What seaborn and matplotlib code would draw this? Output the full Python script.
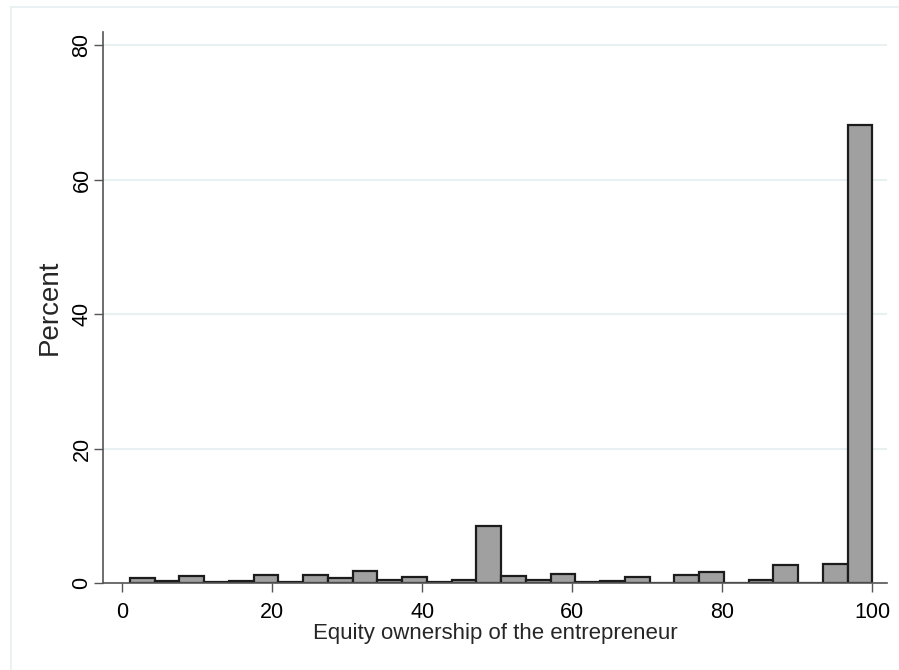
import numpy as np
import pandas as pd
import matplotlib
matplotlib.use("Agg")
import matplotlib.pyplot as plt
import seaborn as sns
from matplotlib.patches import Rectangle

# bins of the histogram (30 bins from 1 to 100) and percent per bin
bin_lo = 1
bin_hi = 100
n_bins = 30
percent = [0.7, 0.35, 1.1, 0.15, 0.3, 1.2, 0.15, 1.2, 0.7, 1.8,
           0.5, 0.95, 0.1, 0.5, 8.5, 1.0, 0.5, 1.35, 0.15, 0.3,
           0.85, 0.05, 1.2, 1.6, 0.0, 0.5, 2.7, 0.05, 2.8, 68.2]
x_ticks = [0, 20, 40, 60, 80, 100]
y_ticks = [0, 20, 40, 60, 80]

edges = np.linspace(bin_lo, bin_hi, n_bins + 1)
df = pd.DataFrame({'equity': (edges[:-1] + edges[1:]) / 2, 'pct': percent})

sns.set_style("white")
plt.rcParams['font.family'] = ['Liberation Sans', 'DejaVu Sans']

fig = plt.figure(figsize=(8.99, 6.7), dpi=100)
ax = fig.add_axes([103 / 899, 1 - 583 / 670, (887 - 103) / 899, (583 - 32) / 670])

# light graph region frame
fig.patches.append(Rectangle((11 / 899, -0.1), 1.2, 1 - 7 / 670 + 0.1,
                             transform=fig.transFigure, fill=False,
                             edgecolor='#e6eff1', linewidth=1.2))

sns.histplot(data=df, x='equity', weights='pct', bins=n_bins,
             binrange=(bin_lo, bin_hi), ax=ax,
             color='#a0a0a0', edgecolor='#1c1c1c', linewidth=1.6, alpha=1)

ax.set_xlim(-2.57, 101.96)
ax.set_ylim(0, 82.0)
ax.set_xticks(x_ticks)
ax.set_yticks(y_ticks)
ax.yaxis.grid(True, color='#e8f0f2', linewidth=1.5)
ax.set_axisbelow(True)

for s in ['top', 'right']:
    ax.spines[s].set_visible(False)
for s in ['left', 'bottom']:
    ax.spines[s].set_color('#555555')
    ax.spines[s].set_linewidth(1.2)

ax.tick_params(axis='both', direction='out', length=6.5, width=1.0, color='#555555',
               labelsize=15.5, labelcolor='black', bottom=True, left=True)
ax.tick_params(axis='x', pad=7.5)
ax.tick_params(axis='y', pad=1)
plt.setp(ax.get_yticklabels(), rotation=90, va='center')

ax.set_xlabel('Equity ownership of the entrepreneur', fontsize=16, labelpad=0)
ax.set_ylabel('Percent', fontsize=20, labelpad=6)

fig.savefig('out.png', dpi=100)
